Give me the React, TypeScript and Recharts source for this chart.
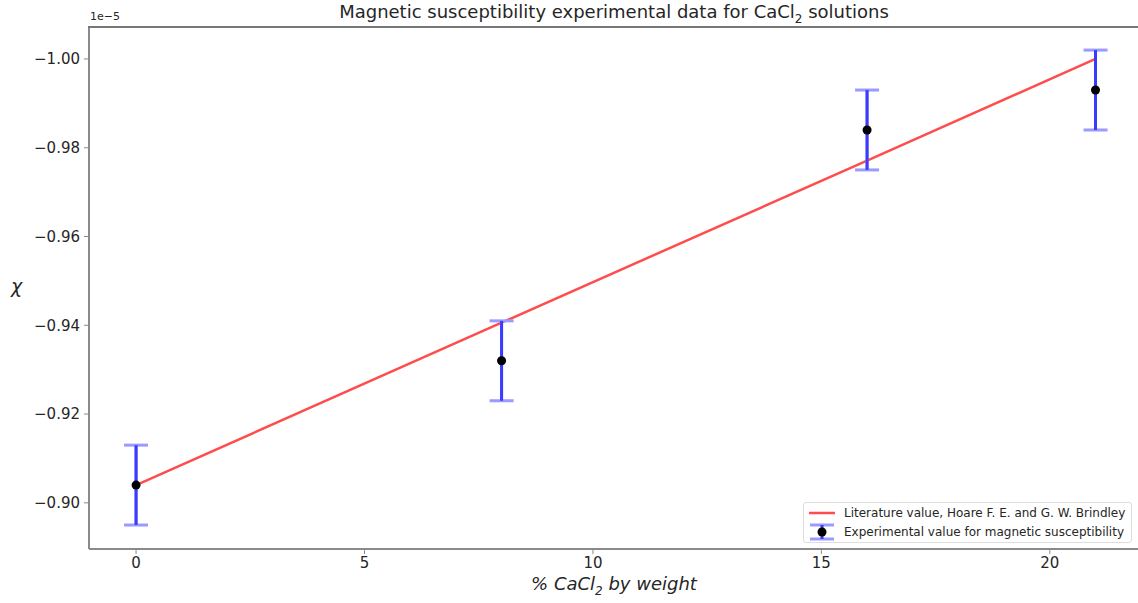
import { ComposedChart, Line, Scatter, ErrorBar, XAxis, YAxis, Legend } from 'recharts';

// values in units of 1e-5
const percent = [0, 8, 16, 21];
const measured = [-0.904, -0.932, -0.984, -0.993];
const measuredErr = [0.009, 0.009, 0.009, 0.009];
const literature = [-0.904, -0.9406, -0.9771, -1.0];

const xTicks = [0, 5, 10, 15, 20];
const yTicks = [-1.0, -0.98, -0.96, -0.94, -0.92, -0.9];
const xDomain = [-1.03, 21.93];
const yDomain = [-1.0072, -0.8896];

const expData = percent.map((x, i) => ({ x, y: measured[i], err: measuredErr[i] }));
const litData = percent.map((x, i) => ({ x, y: literature[i] }));

const FONT = '"DejaVu Sans", sans-serif';
const AXIS = '#8a8a8a';
const TEXT = '#262626';

const fmt = (v: number) => v.toFixed(2).replace('-', '\u2212');

function LegendBox() {
    return (
        <div style={{ border: '1px solid #ddd', borderRadius: 3, background: '#fff', padding: '1px 6px 1px 3px', fontFamily: FONT, fontSize: 12, color: TEXT, whiteSpace: 'nowrap' }}>
            <div style={{ display: 'flex', alignItems: 'center', height: 18 }}>
                <svg width={30} height={14} style={{ marginRight: 7, flexShrink: 0 }}>
                    <line x1={2} y1={7} x2={28} y2={7} stroke="#ff4d4d" strokeWidth={2.5} />
                </svg>
                Literature value, Hoare F. E. and G. W. Brindley
            </div>
            <div style={{ display: 'flex', alignItems: 'center', height: 19 }}>
                <svg width={30} height={18} style={{ marginRight: 7, flexShrink: 0 }}>
                    <line x1={3} y1={2} x2={27} y2={2} stroke="#9a9aff" strokeWidth={3} />
                    <line x1={3} y1={16} x2={27} y2={16} stroke="#9a9aff" strokeWidth={3} />
                    <line x1={15} y1={2} x2={15} y2={16} stroke="#3b3bff" strokeWidth={3} />
                    <circle cx={15} cy={9} r={4.5} fill="#000" />
                </svg>
                Experimental value for magnetic susceptibility
            </div>
        </div>
    );
}

export default function App() {
    return (
        <div style={{ position: 'absolute', left: 0, top: 0, width: 1138, height: 603, background: '#fff', fontFamily: FONT }}>
            <ComposedChart width={1138} height={603} margin={{ top: 26, right: 0, bottom: 0, left: 0 }}>
                <XAxis
                    dataKey="x"
                    type="number"
                    domain={xDomain}
                    allowDataOverflow
                    ticks={xTicks}
                    height={54}
                    axisLine={{ stroke: AXIS, strokeWidth: 2 }}
                    tickLine={{ stroke: AXIS }}
                    tickSize={5}
                    tickMargin={3}
                    tick={{ fill: TEXT, fontSize: 15, fontFamily: FONT }}
                />
                {/* top spine */}
                <XAxis
                    xAxisId="top"
                    orientation="top"
                    dataKey="x"
                    type="number"
                    domain={xDomain}
                    allowDataOverflow
                    height={1}
                    tick={false}
                    tickLine={false}
                    axisLine={{ stroke: AXIS, strokeWidth: 2 }}
                />
                <YAxis
                    dataKey="y"
                    type="number"
                    reversed
                    domain={yDomain}
                    allowDataOverflow
                    ticks={yTicks}
                    tickFormatter={fmt}
                    width={89}
                    axisLine={{ stroke: AXIS, strokeWidth: 2 }}
                    tickLine={{ stroke: AXIS }}
                    tickSize={5}
                    tickMargin={4}
                    tick={{ fill: TEXT, fontSize: 15, fontFamily: FONT }}
                />
                <Line data={litData} dataKey="y" stroke="#ff4d4d" strokeWidth={2.5} dot={false} isAnimationActive={false} />
                <Scatter
                    data={expData}
                    dataKey="y"
                    isAnimationActive={false}
                    shape={(p: any) => <circle cx={p.cx} cy={p.cy} r={4.5} fill="#000" />}
                >
                    <ErrorBar dataKey="err" direction="y" width={12} stroke="#9a9aff" strokeWidth={3} />
                    <ErrorBar dataKey="err" direction="y" width={0} stroke="#3b3bff" strokeWidth={3} />
                </Scatter>
                <Legend
                    layout="horizontal"
                    verticalAlign="middle"
                    align="center"
                    content={() => <LegendBox />}
                    wrapperStyle={{ position: 'absolute', left: 803, top: 502, width: 'auto' }}
                />
            </ComposedChart>
            <div style={{ position: 'absolute', zIndex: 5, left: 88, top: 26, width: 1050, height: 2, background: '#777' }} />
            <div style={{ position: 'absolute', left: 0, width: 1228, top: 1, textAlign: 'center', fontSize: 18, color: TEXT, whiteSpace: 'nowrap' }}>
                Magnetic susceptibility experimental data for CaCl<sub style={{ fontSize: 12 }}>2</sub> solutions
            </div>
            <div style={{ position: 'absolute', left: 90, top: 10, fontSize: 11, color: TEXT }}>1e{'\u2212'}5</div>
            <div style={{ position: 'absolute', left: 0, width: 1228, top: 573, textAlign: 'center', fontSize: 18, fontStyle: 'italic', color: TEXT, whiteSpace: 'nowrap' }}>
                % CaCl<sub style={{ fontSize: 12 }}>2</sub> by weight
            </div>
            <div style={{ position: 'absolute', left: 11, top: 275, fontSize: 19, fontStyle: 'italic', color: TEXT }}>χ</div>
        </div>
    );
}
